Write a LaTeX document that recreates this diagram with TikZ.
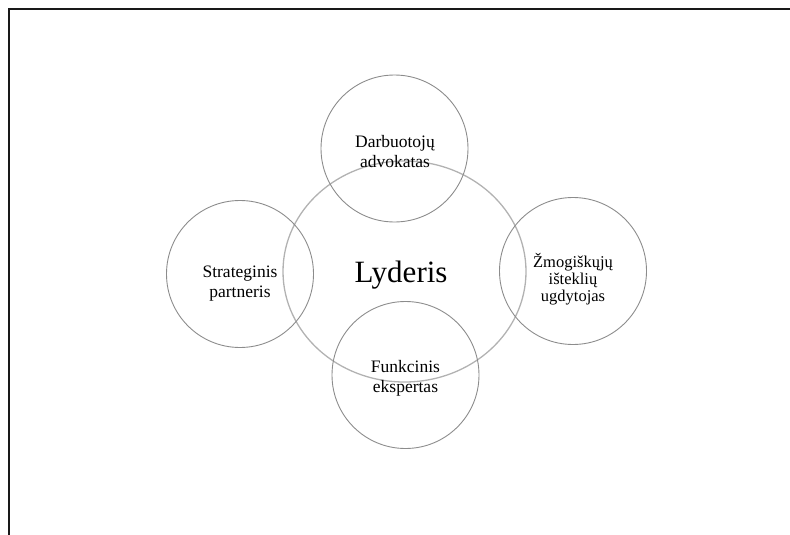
\documentclass[tikz,border=0pt]{standalone}
\usepackage{fontspec}
\setmainfont{Liberation Serif}
\usetikzlibrary{shapes.geometric}
\begin{document}
\begin{tikzpicture}[x=1pt,y=-1pt,
  role/.style={circle,draw=black!45,line width=0.9pt,minimum size=147pt,inner sep=0pt},
  core/.style={ellipse,draw=black!30,line width=1.3pt,minimum width=243pt,minimum height=221pt,
    inner sep=0pt},
  roletext/.style={align=center,inner sep=0pt,font=\fontsize{17.5}{20}\selectfont},
  frame/.style={line width=2pt,black!90}]
\useasboundingbox (0,0) rectangle (790,535);
% page frame
\coordinate (fa) at (9,535);
\coordinate (fb) at (9,9);
\coordinate (fc) at (790,9);
\draw[frame] (fa) -- (fb) -- (fc);
% central role
\node[core] (lead) at (404.5,271.5) {};
\node[font=\fontsize{31}{34}\selectfont] (leadtext) at (401,275) {Lyderis};
% surrounding roles
\node[role] (top) at (394.5,148.5) {};
\node[role] (right) at (573,271) {};
\node[role] (left) at (240,274) {};
\node[role] (bottom) at (405.5,375) {};
% role captions
\node[roletext] (toptext) at (395,152) {Darbuotojų\\advokatas};
\node[roletext,font=\fontsize{16.5}{17}\selectfont] (righttext) at (573,279) {Žmogiškųjų\\išteklių\\ugdytojas};
\node[roletext] (lefttext) at (240,284) {Strateginis\\partneris};
\node[roletext] (bottomtext) at (405.5,378) {Funkcinis\\ekspertas};
\end{tikzpicture}
\end{document}
